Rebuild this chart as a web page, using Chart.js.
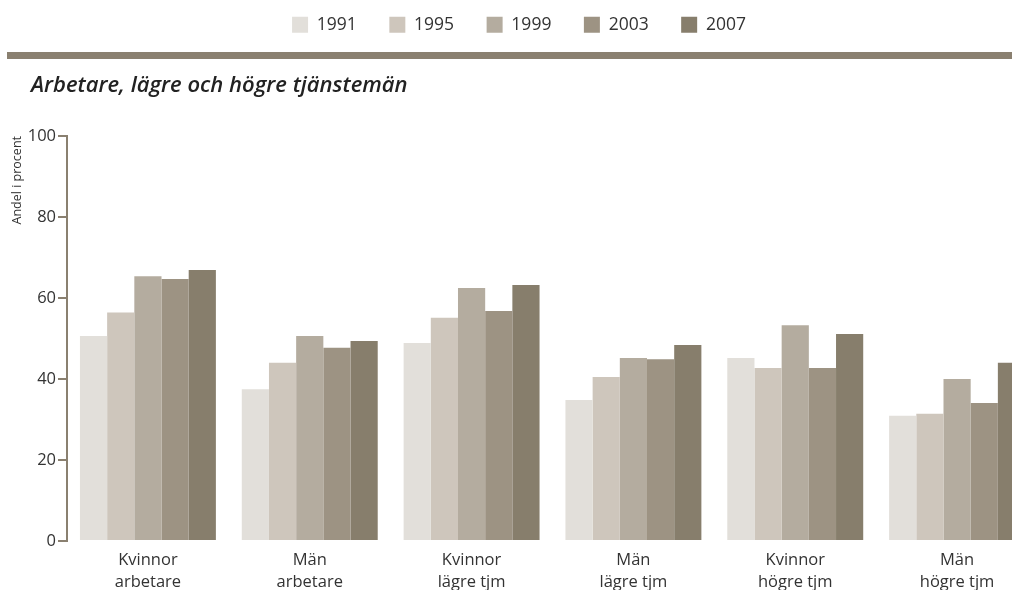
<!DOCTYPE html>
<html lang="sv">
<head>
<meta charset="utf-8">
<script src="https://cdn.jsdelivr.net/npm/chart.js@4/dist/chart.umd.min.js"></script>
<style>
  body { margin: 0; overflow: hidden; background: #fff; }
  #wrap { position: relative; width: 1038px; height: 590px; }
  #chart { position: absolute; left: 0; top: 0; }
  .rule { position: absolute; left: 7px; top: 52px; width: 1010px; height: 7px; background: #8a8070; }
  .title { position: absolute; left: 31px; top: 72px; font: italic 600 22px/22px "Open Sans", sans-serif; color: #222; white-space: nowrap; }
</style>
</head>
<body>
<div id="wrap">
  <canvas id="chart" width="1038" height="590"></canvas>
  <div class="rule"></div>
  <div class="title">Arbetare, lägre och högre tjänstemän</div>
</div>
<script>
const groups = [
    ['Kvinnor', 'arbetare'],
    ['Män', 'arbetare'],
    ['Kvinnor', 'lägre tjm'],
    ['Män', 'lägre tjm'],
    ['Kvinnor', 'högre tjm'],
    ['Män', 'högre tjm']
];
const years = ['1991', '1995', '1999', '2003', '2007'];
const v1991 = [50.6, 37.5, 48.9, 34.8, 45.2, 30.9];
const v1995 = [56.4, 44.0, 55.1, 40.5, 42.7, 31.4];
const v1999 = [65.4, 50.6, 62.5, 45.2, 53.3, 40.0];
const v2003 = [64.7, 47.7, 56.8, 44.9, 42.7, 34.1];
const v2007 = [66.9, 49.4, 63.2, 48.4, 51.1, 44.0];
const yTicks = [0, 20, 40, 60, 80, 100];

const colors = ['#e2dfda', '#cec6bc', '#b4ac9f', '#9d9383', '#877e6c'];
const axisColor = '#8a8070';
const textColor = '#333';
const font = '"Open Sans", sans-serif';

const series = [v1991, v1995, v1999, v2003, v2007];

// legend sits at the very top, the chart area starts well below it
const legendSpace = {
    id: 'legendSpace',
    beforeInit(chart) {
        const fit = chart.legend.fit;
        chart.legend.fit = function () {
            fit.call(this);
            this.height = 152.5;
        };
    }
};

new Chart(document.getElementById('chart'), {
    type: 'bar',
    data: {
        labels: groups,
        datasets: years.map((y, i) => ({
            label: y,
            data: series[i],
            backgroundColor: colors[i],
            borderWidth: 0,
            categoryPercentage: 0.84,
            barPercentage: 1.0
        }))
    },
    options: {
        responsive: false,
        animation: false,
        devicePixelRatio: 1,
        layout: { padding: { top: -16.5, left: 0, right: 0, bottom: 0 } },
        plugins: {
            legend: {
                position: 'top',
                labels: {
                    boxWidth: 16,
                    boxHeight: 16,
                    padding: 32.5,
                    color: textColor,
                    font: { family: font, size: 17.5 }
                }
            },
            tooltip: { enabled: false }
        },
        scales: {
            x: {
                grid: { display: false },
                border: { display: false },
                ticks: {
                    color: textColor,
                    padding: 0,
                    font: { family: font, size: 16.5, lineHeight: 1.35 }
                },
                afterFit(scale) { scale.height = 49; }
            },
            y: {
                min: 0,
                max: 100,
                afterBuildTicks(scale) { scale.ticks = yTicks.map(v => ({ value: v })); },
                grid: { drawOnChartArea: false, drawTicks: true, tickLength: 9, color: axisColor, lineWidth: 2 },
                border: { display: true, color: axisColor, width: 2 },
                ticks: {
                    color: textColor,
                    padding: 2,
                    font: { family: font, size: 16.5 }
                },
                title: {
                    display: true,
                    text: 'Andel i procent',
                    align: 'end',
                    color: textColor,
                    padding: { top: 10, bottom: 0 },
                    font: { family: font, size: 12.5 }
                },
                afterFit(scale) { scale.width = 67; }
            }
        }
    },
    plugins: [legendSpace]
});
</script>
</body>
</html>
